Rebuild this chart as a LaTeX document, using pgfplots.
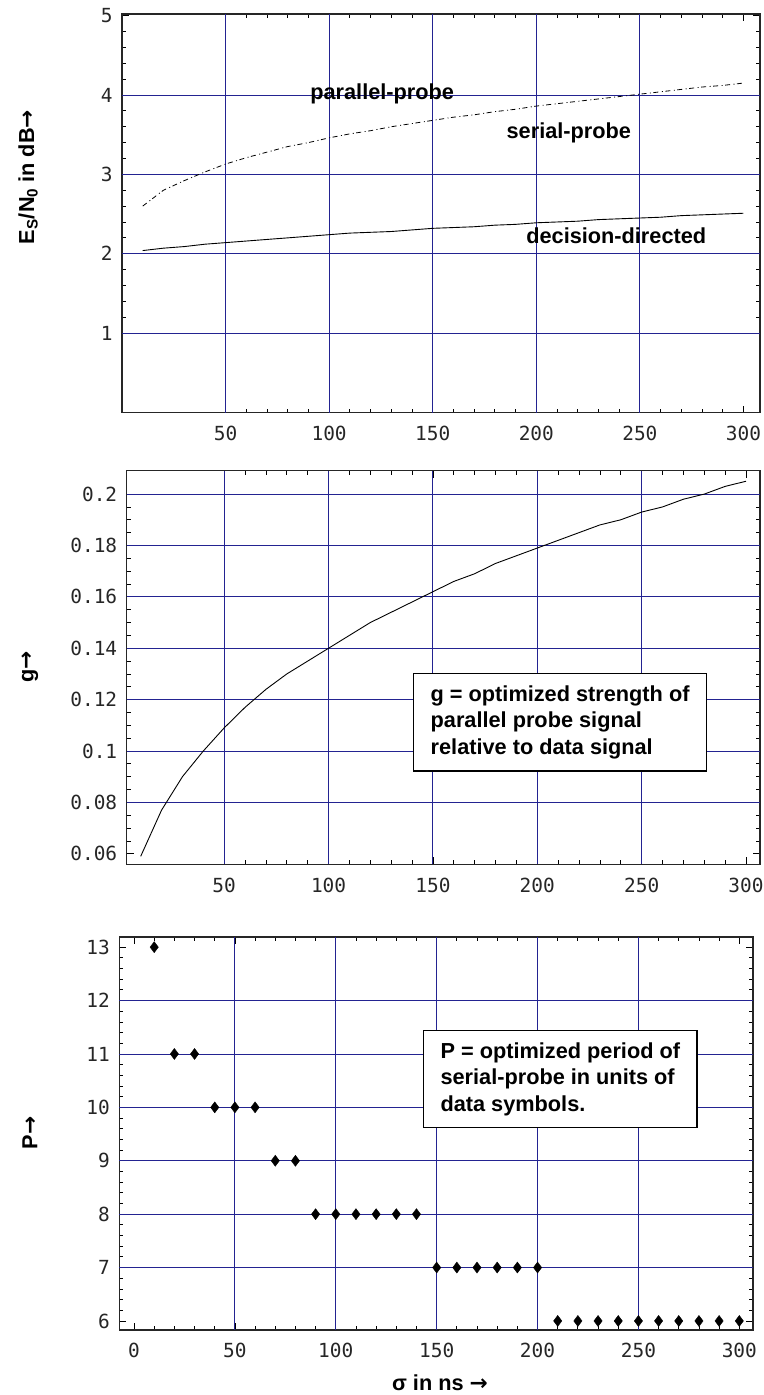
\documentclass[border=0pt]{standalone}
\usepackage{fontspec}
\setmainfont{Liberation Sans}
\newfontfamily\tickfont{DejaVu Sans Mono}
\newfontfamily\arrowfont{DejaVu Sans}
\usepackage{pgfplots}
\pgfplotsset{compat=1.18}
\definecolor{gridblue}{RGB}{35,35,145}
\newcommand{\arr}{{\arrowfont\bfseries →}}

\pgfplotstableread{
x dd pp
10 2.04 2.60
20 2.07 2.80
30 2.09 2.92
40 2.12 3.03
50 2.14 3.13
60 2.16 3.21
70 2.18 3.28
80 2.20 3.35
90 2.22 3.40
100 2.24 3.46
110 2.26 3.51
120 2.27 3.55
130 2.28 3.60
140 2.30 3.64
150 2.32 3.68
160 2.33 3.72
170 2.34 3.75
180 2.36 3.79
190 2.37 3.82
200 2.39 3.86
210 2.40 3.89
220 2.41 3.92
230 2.43 3.95
240 2.44 3.98
250 2.45 4.01
260 2.46 4.04
270 2.48 4.07
280 2.49 4.10
290 2.50 4.12
300 2.51 4.15
}\topdata

\pgfplotstableread{
x g
10 0.059
20 0.077
30 0.090
40 0.100
50 0.109
60 0.117
70 0.124
80 0.130
90 0.135
100 0.140
110 0.145
120 0.150
130 0.154
140 0.158
150 0.162
160 0.166
170 0.169
180 0.173
190 0.176
200 0.179
210 0.182
220 0.185
230 0.188
240 0.190
250 0.193
260 0.195
270 0.198
280 0.200
290 0.203
300 0.205
}\gdata

\pgfplotstableread{
x P
10 13
20 11
30 11
40 10
50 10
60 10
70 9
80 9
90 8
100 8
110 8
120 8
130 8
140 8
150 7
160 7
170 7
180 7
190 7
200 7
210 6
220 6
230 6
240 6
250 6
260 6
270 6
280 6
290 6
300 6
}\pdata

\tikzset{boldlab/.style={font=\bfseries\fontsize{21.8}{26.5}\selectfont}}

\pgfplotsset{
  common/.style={
    scale only axis,
    anchor=north west,
    axis line style={line width=1.2bp, black!85},
    tick align=inside,
    tick pos=both,
    xticklabel pos=lower,
    yticklabel pos=left,
    major tick length=7bp,
    minor tick length=4bp,
    every tick/.style={black, line width=0.8bp},
    minor x tick num=4,
    ticklabel style={font=\tickfont\fontsize{19.5}{19.5}\selectfont, text=black!85},
    xticklabel style={yshift=-10bp},
    yticklabel style={xshift=-6bp},
    major grid style={gridblue, line width=0.9bp},
    extra x tick style={grid=major, major tick length=0pt},
    extra y tick style={grid=major, major tick length=0pt},
    extra x tick labels={},
    extra y tick labels={},
    clip=false,
  },
}

\begin{document}
\begin{tikzpicture}[x=1bp,y=1bp]
\path[use as bounding box] (0,0) rectangle (763,-1395);

% ---------- top panel ----------
\begin{axis}[common,
  at={(122bp,-14bp)}, width=638bp, height=398.5bp,
  xmin=0, xmax=308, ymin=0, ymax=5.02,
  xtick={50,100,150,200,250,300},
  xticklabels={50,100,150,200,250,300},
  ytick={1,2,3,4,5},
  yticklabels={1,2,3,4,5},
  minor y tick num=4,
  extra x ticks={50,100,150,200,250},
  extra y ticks={1,2,3,4},
]
\addplot[black, line width=0.9bp] table[x=x,y=dd] {\topdata};
\addplot[black, line width=0.8bp, dash pattern=on 5bp off 7bp] table[x=x,y=pp] {\topdata};
\addplot[black, line width=0.8bp, dash pattern=on 1bp off 11bp, dash phase=3.5bp] table[x=x,y=pp] {\topdata};
\node[boldlab, anchor=base] at (axis cs:125.6,3.94) {parallel-probe};
\node[boldlab, anchor=base] at (axis cs:215.7,3.45) {serial-probe};
\node[boldlab, anchor=base] at (axis cs:238.6,2.13) {decision-directed};
\end{axis}

% ---------- middle panel ----------
\begin{axis}[common,
  at={(126.7bp,-470.7bp)}, width=633.3bp, height=393.6bp,
  xmin=3.3, xmax=306.7, ymin=0.0559, ymax=0.2091,
  xtick={50,100,150,200,250,300},
  xticklabels={50,100,150,200,250,300},
  ytick={0.06,0.08,0.1,0.12,0.14,0.16,0.18,0.2},
  yticklabels={0.06,0.08,0.1,0.12,0.14,0.16,0.18,0.2},
  minor y tick num=3,
  extra x ticks={50,100,150,200,250},
  extra y ticks={0.08,0.1,0.12,0.14,0.16,0.18,0.2},
]
\addplot[black, line width=0.9bp] table[x=x,y=g] {\gdata};
\node[draw, fill=white, line width=1.2bp, anchor=north west, inner xsep=17bp, inner ysep=12bp,
  align=left, boldlab] at (axis cs:140.5,0.1303)
  {g = optimized strength of\\parallel probe signal\\relative to data signal};
\end{axis}

% ---------- bottom panel ----------
\begin{axis}[common,
  at={(119.3bp,-937bp)}, width=633.7bp, height=393bp,
  xmin=-7.3, xmax=306.8, ymin=5.83, ymax=13.19,
  xtick={0,50,100,150,200,250,300},
  xticklabels={0,50,100,150,200,250,300},
  ytick={6,7,8,9,10,11,12,13},
  yticklabels={6,7,8,9,10,11,12,13},
  minor y tick num=4,
  extra x ticks={50,100,150,200,250},
  extra y ticks={7,8,9,10,11,12},
]
\addplot[black, only marks, mark=diamond*, mark size=5.5bp] table[x=x,y=P] {\pdata};
\node[draw, fill=white, line width=1.2bp, anchor=north west, inner xsep=17bp, inner ysep=12bp,
  align=left, boldlab] at (axis cs:143.2,11.45)
  {P = optimized period of\\serial-probe in units of\\data symbols.};
\end{axis}

% ---------- axis titles ----------
\node[boldlab, rotate=90] at (28,-177) {E\textsubscript{S}/N\textsubscript{0} in dB\arr};
\node[boldlab, rotate=90] at (30,-667) {g\arr};
\node[boldlab, rotate=90] at (30,-1133) {P\arr};
\node[boldlab] at (440,-1383) {σ in ns \arr};
\end{tikzpicture}
\end{document}
